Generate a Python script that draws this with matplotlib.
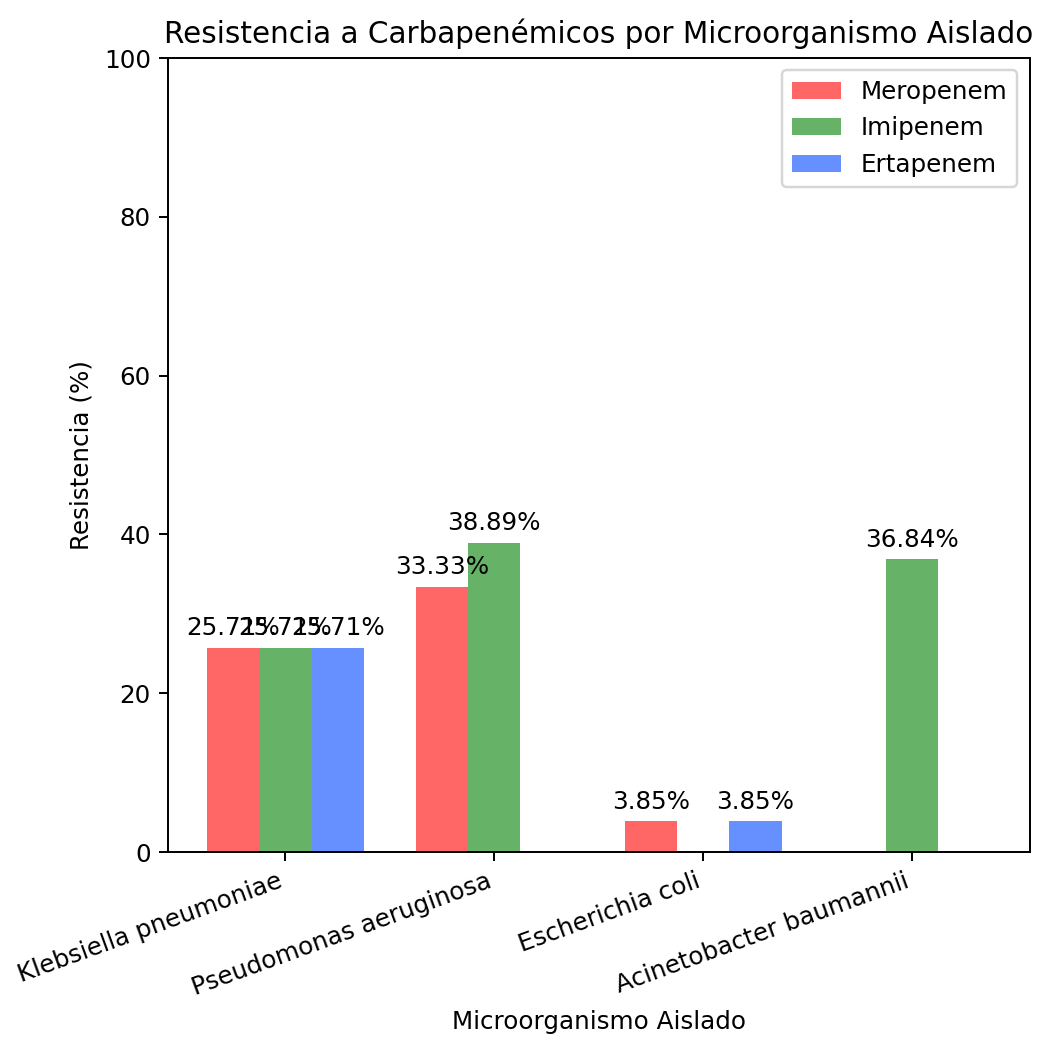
import matplotlib.pyplot as plt
import numpy as np

# Data
microorganismos = ["Klebsiella pneumoniae", "Pseudomonas aeruginosa",
                   "Escherichia coli", "Acinetobacter baumannii"]
meropenem = [25.71, 33.33, 3.85, 0.0]
imipenem = [25.71, 38.89, 0.0, 36.84]
ertapenem = [25.71, 0.0, 3.85, 0.0]

x = np.arange(len(microorganismos))
width = 0.25

fig = plt.figure(figsize=(5.876, 5.859), dpi=177)
ax = fig.add_axes([0.1615, 0.1784, 0.8285, 0.7656])

series = [
    (meropenem, "Meropenem", "red", -width),
    (imipenem, "Imipenem", "green", 0),
    (ertapenem, "Ertapenem", "#0044ff", width),
]

for values, label, color, offset in series:
    bars = ax.bar(x + offset, values, width, label=label, color=color, alpha=0.6)
    for bar, v in zip(bars, values):
        if v > 0:
            ax.text(bar.get_x() + bar.get_width() / 2, v + 1, f"{v:.2f}%",
                    ha="center", va="bottom")

ax.set_title("Resistencia a Carbapenémicos por Microorganismo Aislado")
ax.set_xlabel("Microorganismo Aislado")
ax.set_ylabel("Resistencia (%)")
ax.set_xticks(x)
ax.set_xticklabels(microorganismos, rotation=20, ha="right")
ax.set_ylim(0, 100)
ax.legend(loc="upper right")

fig.savefig("out.png", dpi=177)
